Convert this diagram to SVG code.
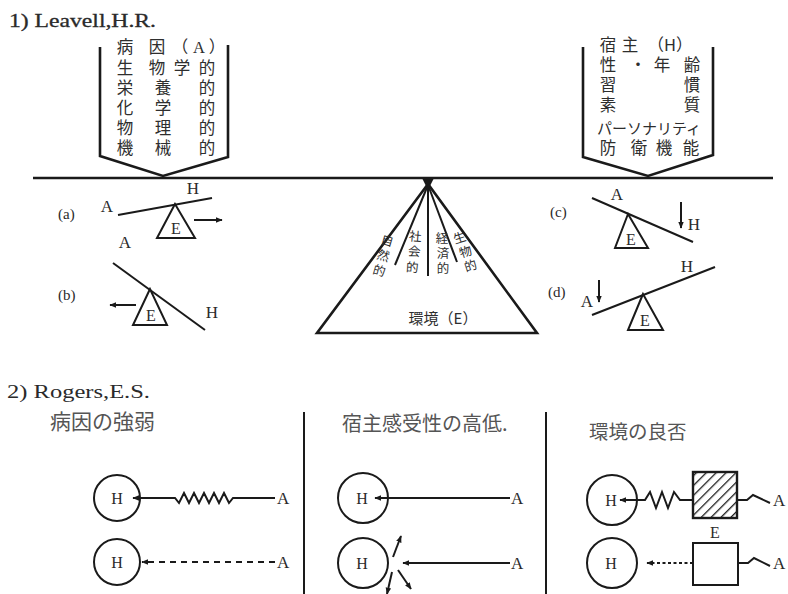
<svg xmlns="http://www.w3.org/2000/svg" width="788" height="594" viewBox="0 0 788 594">
<style>
.ln{stroke:#1a1a1a;stroke-width:2;fill:none}
.thk{stroke:#1a1a1a;stroke-width:2.6;fill:none}
.lat{font-family:"Liberation Serif",serif;fill:#2a2a2a}
.jp{font-family:"Noto Sans CJK JP",sans-serif;fill:#2e2e2e;text-anchor:middle}
.jpg{font-family:"Noto Sans CJK JP",sans-serif;fill:#555}
.c{text-anchor:middle}
</style>
<defs>
<marker id="ah" viewBox="0 0 10 10" refX="9" refY="5" markerWidth="7" markerHeight="7" orient="auto-start-reverse" markerUnits="userSpaceOnUse">
<path d="M0,1 L10,5 L0,9 z" fill="#1a1a1a"/>
</marker>
<pattern id="hatch" patternUnits="userSpaceOnUse" width="7" height="7" patternTransform="rotate(45)">
<rect width="7" height="7" fill="#fff"/>
<line x1="0" y1="0" x2="0" y2="7" stroke="#1a1a1a" stroke-width="2.6"/>
</pattern>
</defs>
<rect width="788" height="594" fill="#fff"/>

<g id="title1">
<text class="lat" x="9" y="27" font-size="19" textLength="147" lengthAdjust="spacingAndGlyphs" stroke="#2a2a2a" stroke-width="0.3">1)  Leavell,H.R.</text>
</g>

<g id="beam">
<line class="thk" x1="33" y1="178" x2="773" y2="178"/>
</g>

<g id="agent-box">
<path class="thk" d="M100,47 V156 L163,176 L228,157 V45"/>
<text class="jp" font-size="16.5"><tspan x="125" y="53">病</tspan><tspan x="157" y="53">因</tspan><tspan x="180" y="53">（</tspan><tspan x="199" y="53" font-family="Liberation Serif">A</tspan><tspan x="217" y="53">）</tspan><tspan x="125" y="74">生</tspan><tspan x="157" y="74">物</tspan><tspan x="182" y="74">学</tspan><tspan x="207" y="74">的</tspan><tspan x="125" y="94">栄</tspan><tspan x="163" y="94">養</tspan><tspan x="207" y="94">的</tspan><tspan x="125" y="114">化</tspan><tspan x="163" y="114">学</tspan><tspan x="207" y="114">的</tspan><tspan x="125" y="134">物</tspan><tspan x="163" y="134">理</tspan><tspan x="207" y="134">的</tspan><tspan x="125" y="154">機</tspan><tspan x="163" y="154">械</tspan><tspan x="207" y="154">的</tspan></text>
</g>

<g id="host-box">
<path class="thk" d="M583,47 V157 L648,176 L713,155 V47"/>
<text class="jp" font-size="16.5"><tspan x="608" y="51">宿</tspan><tspan x="630" y="51">主</tspan><tspan x="670" y="51">（H）</tspan><tspan x="608" y="71">性</tspan><tspan x="638" y="71">・</tspan><tspan x="662" y="71">年</tspan><tspan x="692" y="71">齢</tspan><tspan x="608" y="91">習</tspan><tspan x="692" y="91">慣</tspan><tspan x="608" y="111">素</tspan><tspan x="692" y="111">質</tspan><tspan x="649" y="134" font-size="15">パーソナリティ</tspan><tspan x="608" y="154">防</tspan><tspan x="639" y="154">衛</tspan><tspan x="664" y="154">機</tspan><tspan x="691" y="154">能</tspan></text>
</g>

<g id="environment">
<path class="thk" d="M428,184 L317,333 H537 Z"/>
<path d="M422,178 L434,178 L428,190 Z" fill="#1a1a1a"/>
<line class="ln" x1="428" y1="185" x2="395" y2="265"/>
<line class="ln" x1="428" y1="185" x2="428" y2="276"/>
<line class="ln" x1="428" y1="185" x2="457" y2="262"/>
<g font-size="12.5">
<text class="jp" transform="translate(386,245) rotate(16)">自</text>
<text class="jp" transform="translate(382,260) rotate(16)">然</text>
<text class="jp" transform="translate(378,275) rotate(16)">的</text>
<text class="jp" transform="translate(415,241) rotate(4)">社</text>
<text class="jp" transform="translate(414,256) rotate(4)">会</text>
<text class="jp" transform="translate(412,272) rotate(4)">的</text>
<text class="jp" transform="translate(442,243)">経</text>
<text class="jp" transform="translate(443,258)">済</text>
<text class="jp" transform="translate(443,273)">的</text>
<text class="jp" transform="translate(461,242) rotate(-18)">生</text>
<text class="jp" transform="translate(467,256) rotate(-18)">物</text>
<text class="jp" transform="translate(472,270) rotate(-18)">的</text>
</g>
<text class="jp" x="443" y="324" font-size="15" fill="#555">環境（E）</text>
</g>

<g id="case-a">
<text class="lat" x="58" y="219" font-size="15">(a)</text>
<line class="ln" x1="118" y1="215" x2="212" y2="198"/>
<path class="ln" d="M175,204 L157,238 H195 Z"/>
<text class="lat c" x="176" y="234" font-size="16">E</text>
<line class="ln" x1="194" y1="220" x2="222" y2="220" stroke-width="1.6" marker-end="url(#ah)"/>
<text class="lat c" x="107" y="212" font-size="17">A</text>
<text class="lat c" x="193" y="194" font-size="17">H</text>
<text class="lat c" x="125" y="248" font-size="17" fill="#777">A</text>
</g>

<g id="case-b">
<text class="lat" x="58" y="300" font-size="15">(b)</text>
<line class="ln" x1="113" y1="263" x2="205" y2="330"/>
<path class="ln" d="M150,289 L133,325 H167 Z"/>
<text class="lat c" x="151" y="321" font-size="16">E</text>
<line class="ln" x1="136" y1="305" x2="110" y2="305" stroke-width="1.6" marker-end="url(#ah)"/>
<text class="lat c" x="212" y="318" font-size="17">H</text>
</g>

<g id="case-c">
<text class="lat" x="550" y="217" font-size="15">(c)</text>
<line class="ln" x1="592" y1="198" x2="693" y2="242"/>
<path class="ln" d="M628,214 L615,248 H648 Z"/>
<text class="lat c" x="631" y="245" font-size="16">E</text>
<line class="ln" x1="681" y1="202" x2="681" y2="228" stroke-width="1.6" marker-end="url(#ah)"/>
<text class="lat c" x="617" y="200" font-size="17">A</text>
<text class="lat c" x="694" y="230" font-size="17">H</text>
</g>

<g id="case-d">
<text class="lat" x="548" y="297" font-size="15">(d)</text>
<line class="ln" x1="592" y1="315" x2="715" y2="267"/>
<path class="ln" d="M643,294 L628,330 H663 Z"/>
<text class="lat c" x="645" y="326" font-size="16">E</text>
<line class="ln" x1="599" y1="280" x2="599" y2="302" stroke-width="1.6" marker-end="url(#ah)"/>
<text class="lat c" x="587" y="307" font-size="17">A</text>
<text class="lat c" x="687" y="272" font-size="17">H</text>
</g>

<g id="title2">
<text class="lat" x="7" y="398" font-size="18" textLength="143" lengthAdjust="spacingAndGlyphs">2)  Rogers,E.S.</text>
</g>

<g id="dividers">
<line class="ln" x1="304" y1="412" x2="304" y2="594"/>
<line class="ln" x1="546" y1="412" x2="546" y2="594"/>
</g>

<g id="panel-agent">
<text class="jpg" x="50" y="429" font-size="21">病因の強弱</text>
<circle class="ln" cx="117" cy="498" r="23"/>
<text class="lat c" x="117" y="504" font-size="16">H</text>
<path class="ln" stroke-width="1.6" d="M275,498 H233 L229,503 L224,493 L219,503 L214,493 L209,503 L204,493 L199,503 L194,493 L189,503 L184,493 L179,503 L175,498 H133" marker-end="url(#ah)"/>
<text class="lat" x="277" y="504" font-size="17">A</text>
<circle class="ln" cx="117" cy="562" r="23"/>
<text class="lat c" x="117" y="568" font-size="16">H</text>
<line class="ln" stroke-width="1.6" stroke-dasharray="6,5" x1="275" y1="562" x2="142" y2="562" marker-end="url(#ah)"/>
<text class="lat" x="277" y="568" font-size="17">A</text>
</g>

<g id="panel-host">
<text class="jpg" x="342" y="431" font-size="20">宿主感受性の高低.</text>
<circle class="ln" cx="363" cy="498" r="25"/>
<text class="lat c" x="362" y="504" font-size="16">H</text>
<line class="ln" stroke-width="1.6" x1="510" y1="498" x2="375" y2="498" marker-end="url(#ah)"/>
<text class="lat" x="511" y="504" font-size="17">A</text>
<circle class="ln" cx="363" cy="563" r="25"/>
<text class="lat c" x="362" y="569" font-size="16">H</text>
<line class="ln" stroke-width="1.6" x1="510" y1="563" x2="403" y2="563" marker-end="url(#ah)"/>
<text class="lat" x="511" y="569" font-size="17">A</text>
<line class="ln" stroke-width="1.6" x1="393" y1="557" x2="401" y2="536" marker-end="url(#ah)"/>
<line class="ln" stroke-width="1.6" x1="392" y1="572" x2="387" y2="594" marker-end="url(#ah)"/>
<line class="ln" stroke-width="1.6" x1="398" y1="570" x2="411" y2="589" marker-end="url(#ah)"/>
</g>

<g id="panel-env">
<text class="jpg" x="589" y="439" font-size="19.5">環境の良否</text>
<circle class="ln" cx="612" cy="500" r="25"/>
<text class="lat c" x="611" y="506" font-size="16">H</text>
<path class="ln" stroke-width="1.6" d="M693,500 H680 L674,492 L668,508 L662,492 L656,508 L650,492 L645,500 H620" marker-end="url(#ah)"/>
<rect x="693" y="472" width="44" height="46" fill="url(#hatch)" stroke="#1a1a1a" stroke-width="2.4"/>
<path class="ln" stroke-width="1.6" d="M737,500 H747 L753,495 L770,503"/>
<text class="lat" x="773" y="506" font-size="17">A</text>
<text class="lat c" x="715" y="538" font-size="16">E</text>
<circle class="ln" cx="612" cy="563" r="25"/>
<text class="lat c" x="611" y="569" font-size="16">H</text>
<line class="ln" stroke-width="1.8" stroke-dasharray="3,2.5" x1="693" y1="563" x2="647" y2="563" marker-end="url(#ah)"/>
<rect x="693" y="543" width="45" height="42" fill="#fff" stroke="#1a1a1a" stroke-width="2"/>
<path class="ln" stroke-width="1.6" d="M738,563 H748 L754,558 L770,566"/>
<text class="lat" x="773" y="569" font-size="17">A</text>
</g>
</svg>
